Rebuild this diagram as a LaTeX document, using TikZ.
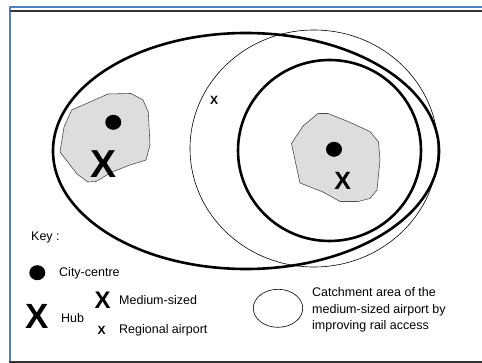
\documentclass[tikz,border=0pt]{standalone}
\usepackage{fontspec}
\setmainfont{Liberation Sans}
\definecolor{frameblue}{HTML}{4F81BD}
\definecolor{citygray}{HTML}{DDDDDD}
\begin{document}
\begin{tikzpicture}[x=1pt, y=-1pt, line join=round, line cap=round,
	thickline/.style={line width=2.6pt},
	thinline/.style={line width=0.6pt},
	city/.style={fill=citygray, draw=black!70, line width=0.6pt},
	keytext/.style={anchor=west, inner sep=0pt, font=\fontsize{12.5}{16.7}\selectfont},
	bigx/.style={inner sep=0pt, font=\fontsize{#1}{#1}\selectfont\bfseries}]
	\useasboundingbox (0,0) rectangle (482,363);
	% frame
	\draw[frameblue, line width=2pt] (9.5,363) -- (9.5,7) -- (482,7);
	\draw[black!80, line width=1.5pt] (11,11) -- (482,11);
	\draw[black!80, line width=2pt] (10,362) -- (482,362);
	% city areas
	\draw[city] (71.7,110) -- (108,94) -- (131,93.5) -- (143,100) -- (148.3,112) -- (150,145)
		-- (146,160) -- (130,165) -- (112,172) -- (96,181.5) -- (88,182) -- (77,174)
		-- (60,152) -- (64,127) -- cycle;
	\draw[city] (291.5,143.5) -- (303,126) -- (318,113.5) -- (328,113.5) -- (348,121.5) -- (370,131.5)
		-- (378.5,142) -- (380,160) -- (377,190) -- (370,198.5) -- (358,201.5) -- (340,201.5)
		-- (323,192) -- (300,183) -- (296.5,167) -- cycle;
	% catchment areas
	\draw[thickline] (246,151) ellipse [x radius=193pt, y radius=118pt];
	\draw[thinline] (314,148.5) ellipse [x radius=124pt, y radius=118.5pt];
	\draw[thickline] (329.5,150.5) ellipse [x radius=91.5pt, y radius=90.5pt];
	% centres and airports
	\fill (113.3,122.3) ellipse [x radius=8pt, y radius=7.5pt];
	\fill (334,149.3) ellipse [x radius=8pt, y radius=7.5pt];
	\node[bigx=39] (hubx) at (103.5,164) {X};
	\node[bigx=25] (medx) at (342.7,180.5) {X};
	\node[bigx=12] (regx) at (214,100) {X};
	% key
	\node[keytext] (key) at (31,237) {Key :};
	\fill (37.3,272.7) ellipse [x radius=8pt, y radius=7.5pt];
	\node[keytext] (cc) at (59,273) {City-centre};
	\node[bigx=35] (khub) at (37.5,316.5) {X};
	\node[keytext] (hub) at (61,318) {Hub};
	\node[bigx=24] (kmed) at (102.7,300.5) {X};
	\node[keytext] (med) at (119,300) {Medium-sized};
	\node[bigx=12] (kreg) at (101.7,330) {X};
	\node[keytext] (reg) at (119,330.5) {Regional airport};
	\draw[thinline] (278,308.3) ellipse [x radius=24.7pt, y radius=19pt];
	\node[keytext, align=left] (catch) at (312,310) {Catchment area of the\\medium-sized airport by\\improving rail access};
\end{tikzpicture}
\end{document}
